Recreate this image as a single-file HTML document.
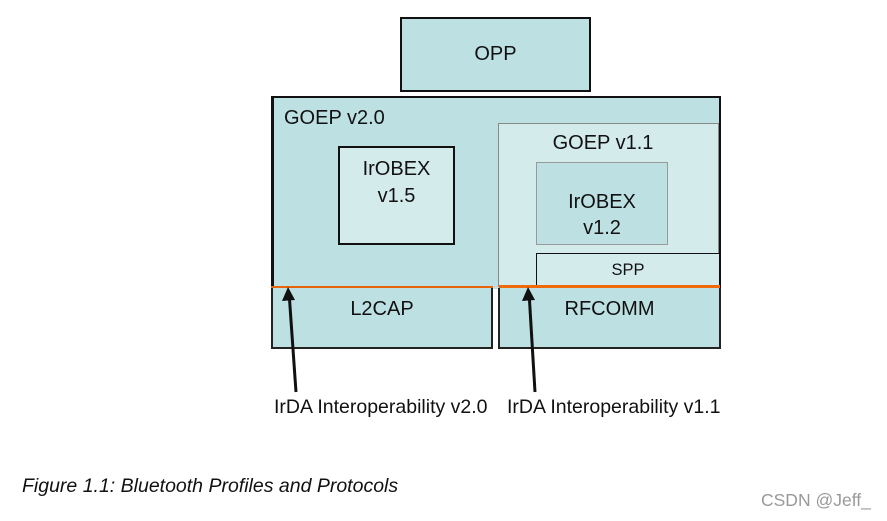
<!DOCTYPE html>
<html><head><meta charset="utf-8"><style>
html,body{margin:0;padding:0;background:#fff;}
body{width:887px;height:521px;position:relative;overflow:hidden;font-family:"Liberation Sans",Arial,sans-serif;}
.b{position:absolute;box-sizing:border-box;}
.t{position:absolute;white-space:nowrap;color:#111;}
</style></head><body>
<div class="b" style="left:400px;top:17px;width:191px;height:75px;background:#bde0e3;border:2px solid #111;"></div>
<div class="t" style="left:400px;top:43px;width:191px;text-align:center;font-size:20px;">OPP</div>

<div class="b" style="left:271px;top:96px;width:450px;height:193px;background:#bde0e3;border:2px solid #111;border-left-width:3px;border-bottom:none;"></div>
<div class="t" style="left:284px;top:107px;font-size:20px;">GOEP v2.0</div>

<div class="b" style="left:338px;top:146px;width:117px;height:99px;background:#d4ebec;border:2px solid #111;"></div>
<div class="t" style="left:338px;top:156px;width:117px;text-align:center;font-size:20px;line-height:27px;">IrOBEX<br>v1.5</div>

<div class="b" style="left:498px;top:123px;width:221px;height:164px;background:#d4ebec;border:1px solid #888;"></div>
<div class="t" style="left:498px;top:132px;width:210px;text-align:center;font-size:20px;">GOEP v1.1</div>

<div class="b" style="left:536px;top:162px;width:132px;height:83px;background:#bde0e3;border:1px solid #999;"></div>
<div class="t" style="left:536px;top:189px;width:132px;text-align:center;font-size:20px;line-height:26px;">IrOBEX<br>v1.2</div>

<div class="b" style="left:536px;top:253px;width:184px;height:33px;background:#d4ebec;border:1px solid #111;"></div>
<div class="t" style="left:536px;top:261px;width:184px;text-align:center;font-size:16.5px;">SPP</div>

<div class="b" style="left:271px;top:286px;width:222px;height:2px;background:#e8640a;"></div>
<div class="b" style="left:499px;top:285px;width:221px;height:3px;background:#f06a0a;"></div>

<div class="b" style="left:271px;top:288px;width:222px;height:61px;background:#bde0e3;border:2px solid #222;border-top:none;"></div>
<div class="t" style="left:271px;top:298px;width:222px;text-align:center;font-size:20px;">L2CAP</div>
<div class="b" style="left:498px;top:288px;width:223px;height:61px;background:#bde0e3;border:2px solid #222;border-top:none;"></div>
<div class="t" style="left:498px;top:298px;width:223px;text-align:center;font-size:20px;">RFCOMM</div>

<svg width="887" height="521" style="position:absolute;left:0;top:0">
<g stroke="#111" stroke-width="3" fill="none">
<line x1="296" y1="392" x2="289" y2="292"/>
<line x1="535" y1="392" x2="529" y2="292"/>
</g>
<g fill="#111">
<polygon points="288,287 282,301 295,300"/>
<polygon points="528,287 522,301 535,300"/>
</g>
</svg>

<div class="t" style="left:274px;top:396px;font-size:19.5px;">IrDA Interoperability v2.0</div>
<div class="t" style="left:507px;top:396px;font-size:19.5px;">IrDA Interoperability v1.1</div>

<div class="t" style="left:22px;top:475px;font-size:19.5px;font-style:italic;">Figure 1.1: Bluetooth Profiles and Protocols</div>
<div class="t" style="left:761px;top:490px;font-size:17.5px;color:#999;">CSDN @Jeff_</div>
</body></html>
